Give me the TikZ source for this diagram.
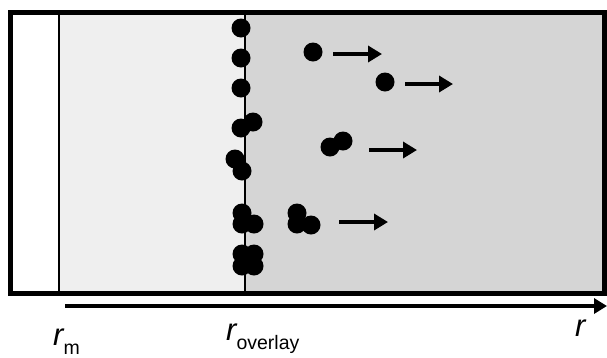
\documentclass[tikz,border=0pt]{standalone}
\usepackage{fontspec}
\setmainfont{Liberation Sans}
\usetikzlibrary{arrows.meta}

\definecolor{layerlight}{HTML}{EFEFEF}
\definecolor{layerdark}{HTML}{D5D5D5}

\tikzset{
  particle/.style={fill=black, draw=none},
  drift/.style={line width=4pt, -{Triangle[length=14pt,width=16pt]}},
  rlabel/.style={anchor=base west, inner sep=0pt}
}

\newcommand{\rsym}{{\fontsize{31}{33}\selectfont\itshape r}}
\newcommand{\rsub}[1]{\raisebox{-9pt}{\fontsize{19.5}{21}\selectfont #1}}

\begin{document}
\begin{tikzpicture}[x=1pt, y=-1pt]
  \useasboundingbox (0,0) rectangle (607,357);

  %=====================================================================
  % layers
  %=====================================================================
  \fill[layerlight] (59,12.5) rectangle (245,293.5);
  \fill[layerdark] (245,12.5) rectangle (604,293.5);
  \draw[line width=1.2pt] (59,12.5) -- (59,293.5);
  \draw[line width=1.6pt] (245,12.5) -- (245,293.5);
  \draw[line width=5pt] (10.5,12.5) rectangle (604,293.5);

  %=====================================================================
  % particles at the overlay boundary
  %=====================================================================
  \foreach \px/\py in {241/28, 241/58, 241/88, 241/128, 253/122,
                       235/159, 242/171, 242/213, 242/224, 254/224,
                       242/254, 254/254, 242/266, 254/266}
    \fill[particle] (\px,\py) circle (9.5);

  % particles moving away
  \foreach \px/\py in {313/52, 385/82, 330/147, 343/141,
                       297/213, 297/224, 311/225}
    \fill[particle] (\px,\py) circle (9.5);

  % drift arrows
  \draw[drift] (333,54) -- (382,54);
  \draw[drift] (405,84) -- (453,84);
  \draw[drift] (369,150) -- (417,150);
  \draw[drift] (339,222) -- (388,222);

  %=====================================================================
  % radial axis
  %=====================================================================
  \draw[line width=3.5pt, -{Triangle[length=13pt,width=15pt]}] (65,306) -- (607,306);
  \node[rlabel] (rm) at (53,345) {\rsym\rsub{m}};
  \node[rlabel] (rov) at (226,340) {\rsym\rsub{overlay}};
  \node[rlabel] (rax) at (575,336) {\rsym};
\end{tikzpicture}
\end{document}
